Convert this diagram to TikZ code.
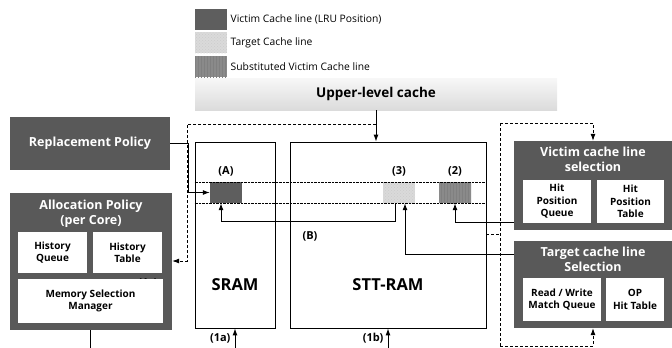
\documentclass[tikz,border=0pt]{standalone}
\usepackage{fontspec}
\setmainfont{Open Sans}
\usetikzlibrary{arrows.meta, positioning, patterns}
\definecolor{boxgray}{HTML}{595959}
\definecolor{lrugray}{HTML}{5E5E5E}
\definecolor{subgray}{HTML}{8A8A8A}
\definecolor{targray}{HTML}{DADADA}
\tikzstyle{arrow} = [line width=1pt,-{Latex[length=7pt,width=5pt]}]
\tikzstyle{dasharrow} = [line width=0.8pt,dash pattern=on 3pt off 2pt,-{Latex[length=7pt,width=5pt]}]
\tikzstyle{darkbox} = [rectangle, fill=boxgray, inner sep=0pt]
\tikzstyle{title} = [text=white, align=center, font=\bfseries\fontsize{12.5}{15}\selectfont]
\tikzstyle{inbox} = [rectangle, fill=white, align=center, inner sep=0pt, font=\bfseries\fontsize{10}{12.5}\selectfont]
\tikzstyle{mem} = [rectangle, draw=black, line width=0.8pt, inner sep=0pt]
\tikzstyle{lbl} = [font=\bfseries\fontsize{11}{13}\selectfont]
\tikzstyle{legtxt} = [right, font=\fontsize{10.3}{12}\selectfont, text=black]
\tikzstyle{lru} = [rectangle, fill=lrugray, inner sep=0pt, minimum width=32pt, minimum height=21pt]
\tikzstyle{tgt} = [rectangle, inner sep=0pt, minimum width=32pt, minimum height=21pt,
  preaction={fill=targray}, pattern=crosshatch dots, pattern color=white!60!gray]
\tikzstyle{sub} = [rectangle, inner sep=0pt, minimum width=32pt, minimum height=21pt,
  preaction={fill=subgray}, pattern=vertical lines, pattern color=black!50]

\begin{document}
\begin{tikzpicture}[x=1pt, y=-1pt]
		\useasboundingbox (0,0) rectangle (672,348);
		% legend
		\node (leg1) [lru] at (211,19) {};
		\node (leg2) [tgt] at (211,42.5) {};
		\node (leg3) [sub] at (211,66.5) {};
		\node [legtxt] at (leg1.east) {Victim Cache line (LRU Position)};
		\node [legtxt] at (leg2.east) {Target Cache line};
		\node [legtxt] at (leg3.east) {Substituted Victim Cache line};
		\node (upper) [rectangle, inner sep=0pt, minimum width=362pt, minimum height=32pt,
			top color=gray!6, bottom color=gray!28, font=\bfseries\fontsize{13.5}{15}\selectfont] at (376,94) {Upper-level cache};

		% memories
		\node (sram) [mem, minimum width=80pt, minimum height=186pt] at (235,235) {};
		\node (stt) [mem, minimum width=196pt, minimum height=186pt] at (388,235) {};
		\node [font=\bfseries\fontsize{16.5}{18}\selectfont] at (235,285) {SRAM};
		\node [font=\bfseries\fontsize{16.5}{18}\selectfont] at (388,285) {STT-RAM};
		\node (swA) [lru] at (226,192.5) {};
		\node (sw3) [tgt] at (399,192.5) {};
		\node (sw2) [sub] at (455,192.5) {};
		\draw [densely dotted] (sram.west |- swA.north) -- (stt.east |- swA.north);
		\draw [densely dotted] (sram.west |- swA.south) -- (stt.east |- swA.south);
		\node [lbl, above=2pt of swA] {(A)};
		\node [lbl, above=2pt of sw3] {(3)};
		\node [lbl, above=2pt of sw2] {(2)};
		\node [lbl] at (310,236) {(B)};
		\node [lbl, left=1pt of sram.south, yshift=-10pt] {(1a)};
		\node [lbl, left=1pt of stt.south, yshift=-10pt] {(1b)};

		% policies
		\node (repl) [darkbox, minimum width=160pt, minimum height=53pt, title] at (90,143.5) {Replacement Policy};
		\node (alloc) [darkbox, minimum width=162pt, minimum height=137pt] at (91,261.5) {};
		\node [title, below=4pt of alloc.north] {Allocation Policy\\(per Core)};
		\node (hq) [inbox, minimum width=69pt, minimum height=41pt] at (52.5,252.5) {History\\Queue};
		\node (ht) [inbox, minimum width=69pt, minimum height=41pt] at (127.5,252.5) {History\\Table};
		\node [lbl] at (148,283.5) {(1c)};
		\node (msm) [inbox, minimum width=145pt, minimum height=44pt] at (90.5,301) {Memory Selection\\Manager};

		% selection units
		\node (vsel) [darkbox, minimum width=158pt, minimum height=89pt] at (593,185.5) {};
		\node [title, below=3pt of vsel.north] {Victim cache line\\selection};
		\node (hpq) [inbox, minimum width=68pt, minimum height=43pt] at (557,201.5) {Hit\\Position\\Queue};
		\node (hpt) [inbox, minimum width=67pt, minimum height=43pt] at (630.5,201.5) {Hit\\Position\\Table};
		\node (tsel) [darkbox, minimum width=158pt, minimum height=87pt] at (593,284.5) {};
		\node [title, below=3pt of tsel.north] {Target cache line\\Selection};
		\node (rwq) [inbox, minimum width=78pt, minimum height=43pt] at (562,299.5) {Read / Write\\Match Queue};
		\node (oph) [inbox, minimum width=58pt, minimum height=43pt] at (635,299.5) {OP\\Hit Table};

		% connectors
		\coordinate (dtop) at (376,124);
		\coordinate (dl) at (187,124);
		\coordinate (dr1) at (500,123);
		\coordinate (dr2) at (500,346);
		\draw [arrow] (upper.south) -- (upper.south |- stt.north);
		\draw [dasharrow] (dtop) -- (dl) |- (alloc.east |- 0,261);
		\draw [arrow] (repl.east) -- ++(18,0) |- (swA.west);
		\draw [arrow] ([xshift=-4pt]sw3.south) -- ++(0,18) -| ([xshift=-5pt]swA.south);
		\draw [arrow] ([yshift=30.5pt]tsel.west) -| ([xshift=6pt]sw3.south);
		\draw [arrow] ([yshift=-36.5pt]vsel.west) -| (sw2.south);
		\draw [dasharrow] (dr1) -| (vsel.north);
		\draw [line width=0.8pt, dash pattern=on 3pt off 2pt] (dr1) -- (dr2);
		\draw [dasharrow] (dr2) -| (tsel.south);
		\draw [line width=0.8pt, dash pattern=on 3pt off 2pt] (stt.east |- 0,234) -- (dr1 |- 0,234);
		\draw [arrow] (sram.south |- 0,348) -- (sram.south);
		\draw [arrow] (stt.south |- 0,348) -- (stt.south);
		\draw [line width=1pt] (alloc.south -| msm) -- ++(0,18);
\end{tikzpicture}
\end{document}
